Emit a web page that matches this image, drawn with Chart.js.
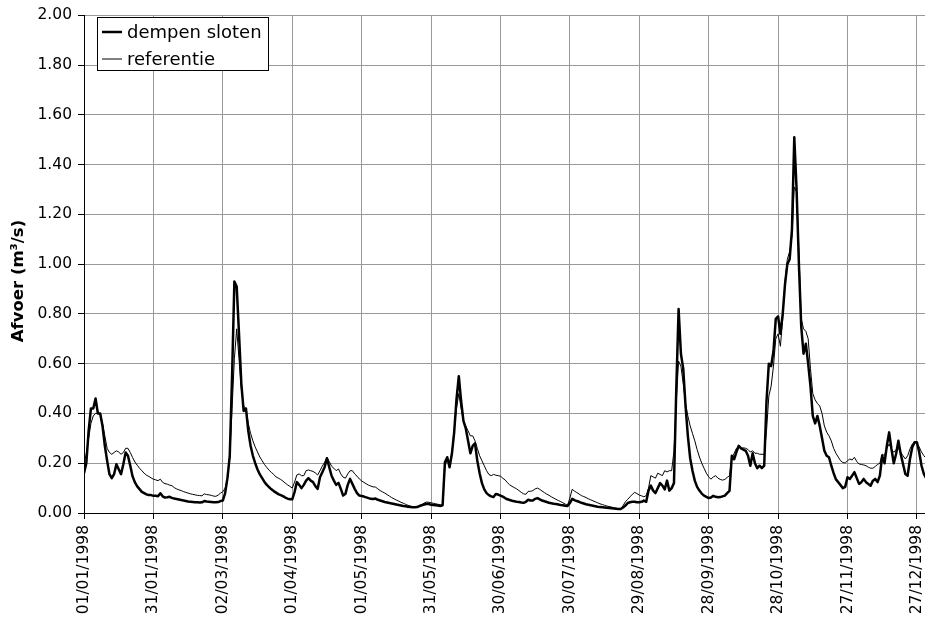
<!DOCTYPE html>
<html>
<head>
<meta charset="utf-8">
<script src="https://cdn.jsdelivr.net/npm/chart.js@4/dist/chart.umd.min.js"></script>
<style>
  html, body { margin: 0; padding: 0; background: #fff; }
  canvas { display: block; }
</style>
</head>
<body>
<canvas id="chart" width="925" height="626"></canvas>
<script>
// daily discharge 1998 (m3/s), index = day of year (0 = 01/01/1998)
const dempenSloten = [
  0.16, 0.20, 0.33, 0.42, 0.42, 0.46, 0.40, 0.40, 0.35, 0.27,
  0.21, 0.156, 0.14, 0.156, 0.196, 0.176, 0.156, 0.196, 0.243, 0.23,
  0.19, 0.147, 0.123, 0.107, 0.096, 0.085, 0.08, 0.075, 0.072, 0.072,
  0.069, 0.069, 0.067, 0.079, 0.067, 0.062, 0.063, 0.065, 0.061, 0.058,
  0.056, 0.054, 0.052, 0.05, 0.048, 0.046, 0.045, 0.044, 0.043, 0.043,
  0.042, 0.043, 0.048, 0.046, 0.045, 0.044, 0.043, 0.043, 0.044, 0.048,
  0.05, 0.08, 0.14, 0.23, 0.55, 0.93, 0.91, 0.72, 0.52, 0.41,
  0.42, 0.33, 0.27, 0.23, 0.20, 0.175, 0.155, 0.14, 0.125, 0.113,
  0.104, 0.095, 0.088, 0.082, 0.076, 0.072, 0.068, 0.062, 0.058, 0.055,
  0.055, 0.084, 0.124, 0.113, 0.10, 0.113, 0.13, 0.14, 0.13, 0.124,
  0.108, 0.097, 0.144, 0.164, 0.184, 0.22, 0.184, 0.15, 0.13, 0.113,
  0.121, 0.097, 0.07, 0.077, 0.113, 0.137, 0.117, 0.097, 0.08, 0.07,
  0.068, 0.066, 0.063, 0.06, 0.057, 0.056, 0.058, 0.053, 0.05, 0.047,
  0.044, 0.042, 0.04, 0.038, 0.036, 0.034, 0.032, 0.03, 0.028, 0.027,
  0.025, 0.024, 0.023, 0.023, 0.024, 0.028, 0.031, 0.034, 0.036, 0.037,
  0.033, 0.032, 0.031, 0.03, 0.028, 0.031, 0.204, 0.224, 0.184, 0.237,
  0.324, 0.457, 0.55, 0.45, 0.37, 0.34, 0.29, 0.24, 0.27, 0.28,
  0.21, 0.16, 0.12, 0.095, 0.08, 0.072, 0.067, 0.064, 0.076, 0.074,
  0.07, 0.066, 0.06, 0.055, 0.052, 0.049, 0.047, 0.045, 0.044, 0.042,
  0.041, 0.045, 0.053, 0.05, 0.05, 0.057, 0.06, 0.055, 0.05, 0.047,
  0.044, 0.041, 0.039, 0.037, 0.036, 0.034, 0.032, 0.031, 0.029, 0.028,
  0.04, 0.057, 0.052, 0.048, 0.045, 0.041, 0.038, 0.035, 0.033, 0.031,
  0.029, 0.027, 0.025, 0.024, 0.023, 0.022, 0.021, 0.02, 0.019, 0.018,
  0.017, 0.016, 0.016, 0.022, 0.03, 0.04, 0.043, 0.045, 0.045, 0.043,
  0.043, 0.045, 0.05, 0.045, 0.09, 0.11, 0.09, 0.08, 0.10, 0.12,
  0.11, 0.095, 0.13, 0.09, 0.10, 0.12, 0.50, 0.82, 0.64, 0.58,
  0.43, 0.31, 0.22, 0.17, 0.13, 0.105, 0.09, 0.078, 0.07, 0.065,
  0.06, 0.062, 0.069, 0.065, 0.063, 0.064, 0.067, 0.07, 0.08, 0.089,
  0.23, 0.216, 0.245, 0.27, 0.26, 0.255, 0.25, 0.23, 0.19, 0.24,
  0.20, 0.18, 0.19, 0.18, 0.19, 0.45, 0.60, 0.59, 0.65, 0.78,
  0.79, 0.72, 0.80, 0.92, 1.00, 1.02, 1.14, 1.51, 1.30, 1.00,
  0.75, 0.64, 0.68, 0.60, 0.51, 0.39, 0.36, 0.39, 0.35, 0.30,
  0.25, 0.23, 0.224, 0.19, 0.16, 0.135, 0.124, 0.112, 0.10, 0.105,
  0.144, 0.137, 0.15, 0.164, 0.14, 0.117, 0.124, 0.137, 0.124, 0.117,
  0.11, 0.13, 0.137, 0.124, 0.15, 0.23, 0.20, 0.27, 0.324, 0.257,
  0.20, 0.237, 0.29, 0.237, 0.197, 0.157, 0.15, 0.217, 0.264, 0.284,
  0.284, 0.244, 0.19, 0.157, 0.14
];

const referentie = [
  0.19, 0.24, 0.30, 0.36, 0.39, 0.40, 0.40, 0.40, 0.36, 0.31,
  0.26, 0.243, 0.236, 0.243, 0.25, 0.245, 0.236, 0.243, 0.26, 0.26,
  0.243, 0.223, 0.205, 0.192, 0.18, 0.17, 0.16, 0.152, 0.147, 0.141,
  0.136, 0.133, 0.13, 0.136, 0.123, 0.118, 0.116, 0.112, 0.11, 0.102,
  0.097, 0.093, 0.09, 0.086, 0.083, 0.08, 0.077, 0.075, 0.073, 0.071,
  0.07, 0.069, 0.077, 0.074, 0.073, 0.071, 0.068, 0.067, 0.072, 0.08,
  0.085, 0.10, 0.14, 0.22, 0.42, 0.62, 0.74, 0.62, 0.50, 0.43,
  0.42, 0.36, 0.32, 0.29, 0.265, 0.245, 0.225, 0.21, 0.195, 0.183,
  0.172, 0.163, 0.155, 0.145, 0.14, 0.135, 0.128, 0.12, 0.113, 0.107,
  0.10, 0.124, 0.153, 0.157, 0.15, 0.15, 0.17, 0.173, 0.17, 0.167,
  0.161, 0.153, 0.17, 0.188, 0.204, 0.224, 0.207, 0.188, 0.18, 0.17,
  0.177, 0.157, 0.144, 0.14, 0.157, 0.17, 0.17, 0.157, 0.148, 0.137,
  0.129, 0.123, 0.117, 0.112, 0.108, 0.105, 0.104, 0.097, 0.09, 0.085,
  0.08, 0.074, 0.068, 0.062, 0.057, 0.052, 0.048, 0.043, 0.039, 0.035,
  0.031, 0.028, 0.025, 0.025, 0.026, 0.03, 0.033, 0.04, 0.044, 0.043,
  0.041, 0.039, 0.037, 0.035, 0.033, 0.033, 0.184, 0.22, 0.20, 0.24,
  0.337, 0.42, 0.48, 0.42, 0.37, 0.35, 0.33, 0.31, 0.31, 0.29,
  0.26, 0.23, 0.21, 0.19, 0.17, 0.155, 0.15, 0.155, 0.152, 0.15,
  0.148, 0.14, 0.133, 0.122, 0.113, 0.107, 0.102, 0.097, 0.09, 0.083,
  0.077, 0.075, 0.087, 0.087, 0.09, 0.097, 0.10, 0.095, 0.088, 0.082,
  0.076, 0.071, 0.065, 0.06, 0.055, 0.05, 0.046, 0.041, 0.036, 0.031,
  0.06, 0.095, 0.088, 0.082, 0.076, 0.07, 0.066, 0.062, 0.057, 0.053,
  0.049, 0.045, 0.041, 0.037, 0.034, 0.031, 0.028, 0.026, 0.024, 0.021,
  0.019, 0.017, 0.017, 0.03, 0.045, 0.055, 0.065, 0.075, 0.083, 0.078,
  0.072, 0.069, 0.065, 0.07, 0.10, 0.15, 0.145, 0.14, 0.16, 0.155,
  0.15, 0.17, 0.165, 0.17, 0.17, 0.25, 0.45, 0.61, 0.59, 0.52,
  0.44, 0.39, 0.35, 0.32, 0.29, 0.255, 0.225, 0.20, 0.18, 0.16,
  0.145, 0.136, 0.145, 0.15, 0.14, 0.135, 0.132, 0.135, 0.143, 0.15,
  0.22, 0.24, 0.26, 0.265, 0.26, 0.262, 0.26, 0.255, 0.245, 0.25,
  0.24, 0.24, 0.236, 0.236, 0.235, 0.33, 0.47, 0.51, 0.59, 0.70,
  0.72, 0.67, 0.78, 0.93, 1.02, 1.05, 1.11, 1.31, 1.29, 1.05,
  0.78, 0.74, 0.73, 0.70, 0.58, 0.48, 0.455, 0.44, 0.43, 0.40,
  0.35, 0.325, 0.31, 0.29, 0.26, 0.24, 0.225, 0.21, 0.203, 0.201,
  0.21, 0.217, 0.213, 0.224, 0.207, 0.197, 0.195, 0.193, 0.19, 0.184,
  0.18, 0.18, 0.187, 0.195, 0.20, 0.237, 0.23, 0.26, 0.277, 0.257,
  0.244, 0.255, 0.26, 0.244, 0.23, 0.217, 0.23, 0.257, 0.277, 0.284,
  0.28, 0.265, 0.245, 0.23, 0.22
];

// x-axis: one label every 30 days
const tickDays = [0, 30, 60, 90, 120, 150, 180, 210, 240, 270, 300, 330, 360];
const tickLabels = ['01/01/1998', '31/01/1998', '02/03/1998', '01/04/1998', '01/05/1998',
  '31/05/1998', '30/06/1998', '30/07/1998', '29/08/1998', '28/09/1998',
  '28/10/1998', '27/11/1998', '27/12/1998'];

const seriesNames = ['dempen sloten', 'referentie'];
const yTitle = 'Afvoer (m³/s)';

const FONT = '"DejaVu Sans", Verdana, sans-serif';

function toPoints(arr){
    return arr.map((v, i) => ({x: i, y: v}));
}

// Excel style legend box in the upper left of the plot + the y title
const boxLegend = {
    id: 'boxLegend',
    afterDraw(chart){
        const c = chart.ctx;
        c.save();
        c.fillStyle = '#fff';
        c.fillRect(97, 17, 171, 53);
        c.strokeStyle = '#000';
        c.lineWidth = 1;
        c.strokeRect(97.5, 17.5, 171, 53);
        c.font = '18px ' + FONT;
        c.textBaseline = 'middle';
        c.textAlign = 'left';
        chart.data.datasets.forEach((ds, i) => {
            const y = 32 + i * 27;
            c.strokeStyle = ds.borderColor;
            c.lineWidth = ds.borderWidth;
            c.beginPath();
            c.moveTo(102, y);
            c.lineTo(122, y);
            c.stroke();
            c.fillStyle = '#000';
            c.fillText(ds.label, 127, y + 1);
        });

        c.translate(19, 281);
        c.rotate(-Math.PI / 2);
        c.textAlign = 'center';
        c.font = 'bold 16.5px ' + FONT;
        c.fillText(yTitle, 0, 0);
        c.restore();
    }
};

const chart = new Chart(document.getElementById('chart'), {
    type: 'line',
    data: {
        datasets: [
            {
                label: seriesNames[0],
                data: toPoints(dempenSloten),
                borderColor: '#000',
                borderWidth: 2.5,
                borderJoinStyle: 'round',
                order: 1
            },
            {
                label: seriesNames[1],
                data: toPoints(referentie),
                borderColor: '#000',
                borderWidth: 1,
                order: 0
            }
        ]
    },
    options: {
        responsive: false,
        animation: false,
        events: [],
        layout: {padding: {top: 13, right: 0, left: 0, bottom: 0}},
        elements: {
            point: {radius: 0},
            line: {tension: 0}
        },
        plugins: {
            legend: {display: false},
            tooltip: {enabled: false}
        },
        scales: {
            x: {
                type: 'linear',
                min: 0,
                max: 363.5,
                afterBuildTicks: (s) => {
                    s.ticks = tickDays.map(v => ({value: v}));
                },
                afterFit: (s) => {
                    s.height = 113;
                    // plot runs to the right edge of the picture
                    s.paddingRight = 0;
                    s.paddingLeft = 0;
                },
                grid: {
                    color: '#999',
                    lineWidth: 1,
                    tickLength: 6,
                    tickColor: '#000'
                },
                border: {color: '#000', width: 1},
                ticks: {
                    autoSkip: false,
                    minRotation: 90,
                    maxRotation: 90,
                    padding: 6,
                    color: '#000',
                    font: {family: FONT, size: 15.5},
                    callback: (v) => tickLabels[tickDays.indexOf(v)]
                }
            },
            y: {
                min: 0,
                max: 2,
                afterFit: (s) => { s.width = 84; },
                grid: {
                    color: '#999',
                    lineWidth: 1,
                    tickLength: 6,
                    tickColor: '#000'
                },
                border: {color: '#000', width: 1},
                ticks: {
                    stepSize: 0.2,
                    padding: 6,
                    color: '#000',
                    font: {family: FONT, size: 15.5},
                    callback: (v) => v.toFixed(2)
                }
            }
        }
    },
    plugins: [boxLegend]
});
</script>
</body>
</html>
